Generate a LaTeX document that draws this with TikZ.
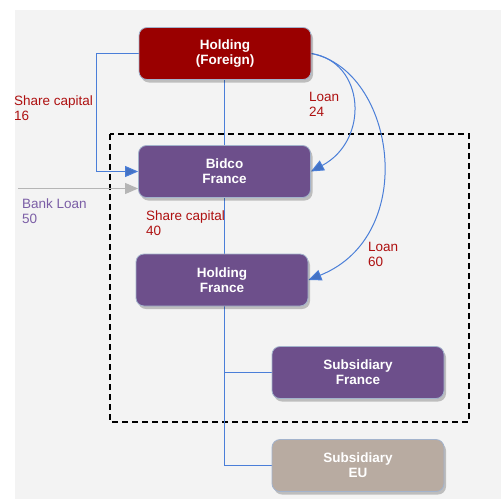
\documentclass[tikz,border=0pt]{standalone}
\usepackage{fontspec}
\setmainfont{Liberation Sans}
\usetikzlibrary{arrows.meta,shadows}

\definecolor{canvas}{HTML}{F3F3F3}
\definecolor{holdred}{HTML}{9A0000}
\definecolor{grpurple}{HTML}{6D4F8B}
\definecolor{eutaupe}{HTML}{B8ABA1}
\definecolor{boxedge}{HTML}{A3B3CC}
\definecolor{wireblue}{HTML}{4A7ED8}
\definecolor{tipblue}{HTML}{4472C4}
\definecolor{bankgrey}{HTML}{B5B5B5}
\definecolor{labelred}{HTML}{AE1010}
\definecolor{labelpurple}{HTML}{7B5EA6}

\pgfdeclarelayer{bg}
\pgfdeclarelayer{wires}
\pgfsetlayers{bg,wires,main}

\begin{document}
\begin{tikzpicture}[x=1pt,y=-1pt,
  entity/.style={draw=boxedge, line width=0.8pt, rounded corners=8pt,
    minimum width=172pt, minimum height=52pt, inner sep=0pt,
    text=white, align=center,
    font=\bfseries\fontsize{13.5}{15}\selectfont,
    drop shadow={shadow xshift=2pt, shadow yshift=-3pt, opacity=0.22, fill=black}},
  lbl/.style={anchor=north west, inner sep=0pt, align=left,
    font=\fontsize{13.5}{15}\selectfont},
  wire/.style={draw=wireblue, line width=1pt},
  tip/.style={-{Triangle[length=13pt,width=11pt,fill=tipblue]}},
  bankwire/.style={draw=bankgrey, line width=1pt,
    -{Triangle[length=13pt,width=11pt,fill=bankgrey]}},
  perimeter/.style={draw=black, line width=1.6pt, dash pattern=on 6pt off 4pt}]

  % page and grey canvas
  \useasboundingbox (0,0) rectangle (501,499);
  \begin{pgfonlayer}{bg}
    \fill[canvas] (15,10) rectangle (501,499);
    \draw[perimeter] (110,134) rectangle (469,422);
  \end{pgfonlayer}

  % entities
  \node[entity, fill=holdred]  (hf)  at (225,53.5)  {Holding\\(Foreign)};
  \node[entity, fill=grpurple] (bf)  at (224.5,171.5) {Bidco\\France};
  \node[entity, fill=grpurple] (hfr) at (222,280)   {Holding\\France};
  \node[entity, fill=grpurple] (sf)  at (358,372.5) {Subsidiary\\France};
  \node[entity, fill=eutaupe]  (seu) at (358,465.5) {Subsidiary\\EU};

  \coordinate (bank) at (18,188.5);

  % flow labels
  \node[lbl, text=labelred]    (l16) at (14,96)     {Share capital\\16};
  \node[lbl, text=labelred]    (l24) at (309,92.5)  {Loan\\24};
  \node[lbl, text=labelpurple] (l50) at (22,198.5)  {Bank Loan\\50};
  \node[lbl, text=labelred]    (l40) at (146,210.5) {Share capital\\40};
  \node[lbl, text=labelred]    (l60) at (368,242)   {Loan\\60};

  % connectors
  \begin{pgfonlayer}{wires}
    \draw[wire] ([xshift=-0.5pt]hf.south) -- ([xshift=-0.5pt]hf.south |- seu.west) -- (seu.west);
    \draw[wire] ([xshift=-0.5pt]hf.south |- sf.west) -- (sf.west);
    \draw[wire, tip] (hf.west) -- ++(-42.5,0) |- (bf.west);
    \draw[bankwire] (bank) -- ([yshift=-17pt]bf.west);
    \draw[wire, tip] (hf.east) .. controls (365,62) and (370,140) .. (bf.east);
    \draw[wire, tip] (hf.east) .. controls (395,70) and (420,235) .. (hfr.east);
  \end{pgfonlayer}
\end{tikzpicture}
\end{document}
